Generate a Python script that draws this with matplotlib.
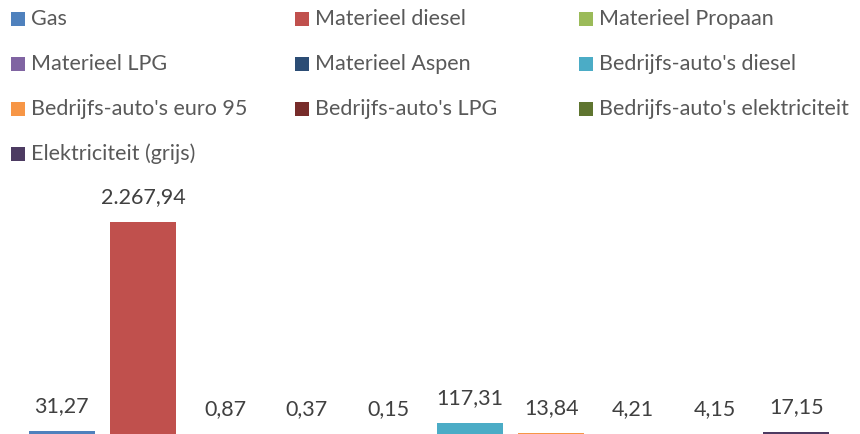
import matplotlib
matplotlib.use("Agg")
import matplotlib.pyplot as plt
from matplotlib.patches import Rectangle

series = ["Gas", "Materieel diesel", "Materieel Propaan", "Materieel LPG",
          "Materieel Aspen", "Bedrijfs-auto's diesel", "Bedrijfs-auto's euro 95",
          "Bedrijfs-auto's LPG", "Bedrijfs-auto's elektriciteit", "Elektriciteit (grijs)"]
values = [31.27, 2267.94, 0.87, 0.37, 0.15, 117.31, 13.84, 4.21, 4.15, 17.15]
colors = ["#4F81BD", "#C0504D", "#9BBB59", "#8064A2", "#2C4D75",
          "#4BACC6", "#F79646", "#772C2A", "#5F7530", "#4D3B62"]

FONT = "Lato"
W, H = 860, 434


def fmt(v):
    s = f"{v:,.2f}"
    return s.replace(",", "X").replace(".", ",").replace("X", ".")


fig = plt.figure(figsize=(W / 100, H / 100), dpi=100)
ax_h = 260
ax = fig.add_axes([21 / W, 0, (837 - 21) / W, ax_h / H])
ax.set_xlim(-0.5, len(values) - 0.5)
ax.set_ylim(0, max(values) * ax_h / 212)
ax.axis("off")

xs = list(range(len(values)))
bars = ax.bar(xs, values, width=66 / 81.6, color=colors)
for x, v in zip(xs, values):
    ax.annotate(fmt(v), (x, v), xytext=(0, 18), textcoords="offset points",
                ha="center", va="center", fontsize=15.5, color="#404040",
                family=FONT, annotation_clip=False)

# legend, row-wise, 3 columns
col_x = [11, 295, 579]
row_y = [19, 64, 109, 154]
for i, (name, c) in enumerate(zip(series, colors)):
    r, cidx = divmod(i, 3)
    x0 = col_x[cidx]
    y0 = row_y[r]
    fig.add_artist(Rectangle((x0 / W, 1 - (y0 + 7) / H), 14 / W, 14 / H,
                             transform=fig.transFigure, facecolor=c,
                             edgecolor="none"))
    fig.text((x0 + 20) / W, 1 - y0 / H, name, ha="left", va="center",
             fontsize=15.5, color="#595959", family=FONT)

fig.savefig("out.png", dpi=100)
